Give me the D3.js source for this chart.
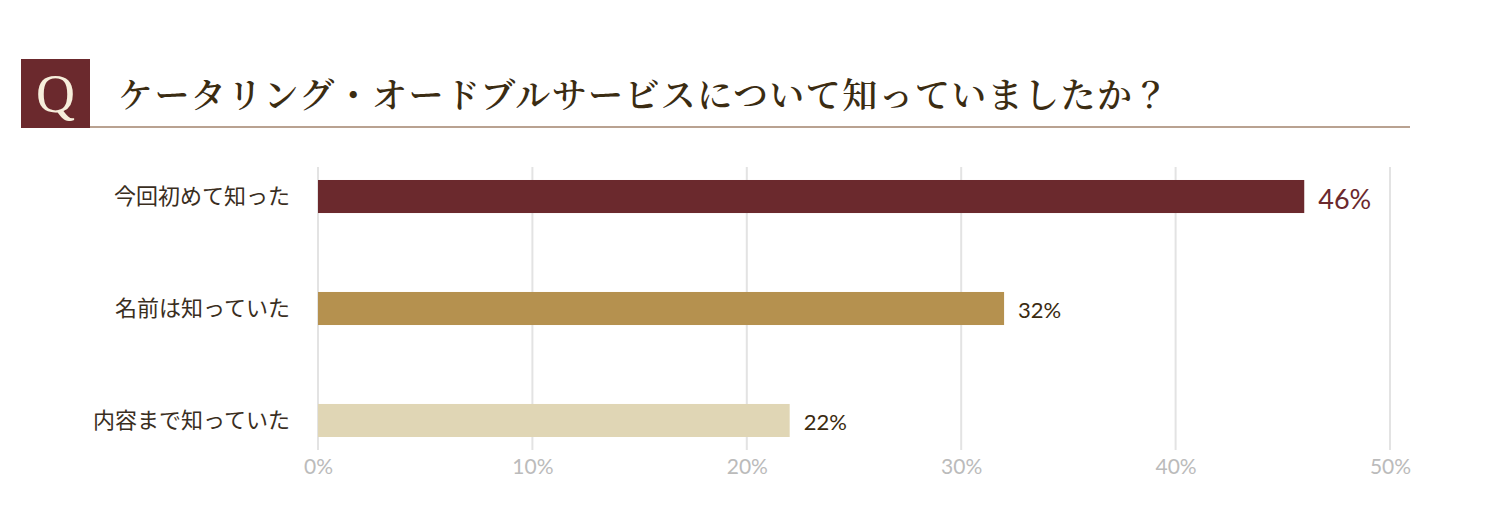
<!DOCTYPE html>
<html>
<head>
<meta charset="utf-8">
<script src="https://cdn.jsdelivr.net/npm/d3@7"></script>
<style>
  body { margin: 0; background: #fff; }
  .tick text { font-family: Lato, sans-serif; }
</style>
</head>
<body>
<div id="chart"></div>
<script>
var title = "ケータリング・オードブルサービスについて知っていましたか？";
var categories = ["今回初めて知った", "名前は知っていた", "内容まで知っていた"];
var values = [46, 32, 22];
var colors = ["#6b292d", "#b5914f", "#e0d6b5"];
var ticks = [0, 10, 20, 30, 40, 50];

var width = 1500;
var height = 510;
var x = d3.scaleLinear().domain([0, 50]).range([318, 1390]);
var y = d3.scaleBand().domain(categories).range([167, 450])
	.paddingInner(0.705).paddingOuter(0.116);

var svg = d3.select('#chart')
	.append('svg')
	.attr('width', width)
	.attr('height', height);

// heading
svg.append('rect')
	.attr('x', 21).attr('y', 59)
	.attr('width', 69).attr('height', 69)
	.attr('fill', '#6b292d');
svg.append('text')
	.attr('x', 55.5).attr('y', 112)
	.attr('text-anchor', 'middle')
	.attr('font-family', '"Liberation Serif", "DejaVu Serif", serif')
	.attr('font-size', 54)
	.attr('fill', '#f6eedb')
	.text('Q');
svg.append('line')
	.attr('x1', 90).attr('x2', 1410)
	.attr('y1', 127).attr('y2', 127)
	.attr('stroke', '#b9a291').attr('stroke-width', 2);
svg.append('text')
	.attr('x', 118).attr('y', 108)
	.attr('font-family', '"Noto Serif CJK JP", "Noto Sans CJK JP", serif')
	.attr('font-size', 35)
	.attr('font-weight', 600)
	.attr('letter-spacing', 1.4)
	.attr('fill', '#3b2c12')
	.text(title);

// grid
svg.append('g')
	.selectAll('line')
	.data(ticks)
	.join('line')
	.attr('x1', function (d) { return x(d); })
	.attr('x2', function (d) { return x(d); })
	.attr('y1', 167).attr('y2', 450)
	.attr('stroke', '#e3e3e3').attr('stroke-width', 2);

var axis = svg.append('g')
	.attr('transform', 'translate(0,450)')
	.call(d3.axisBottom(x).tickValues(ticks).tickSize(0).tickPadding(9)
		.tickFormat(function (d) { return d + '%'; }));
axis.select('.domain').remove();
axis.selectAll('text')
	.attr('font-size', 21)
	.attr('fill', '#bbbbbb');

// bars
svg.append('g')
	.selectAll('rect')
	.data(values)
	.join('rect')
	.attr('x', x(0))
	.attr('y', function (d, i) { return y(categories[i]); })
	.attr('width', function (d) { return x(d) - x(0); })
	.attr('height', y.bandwidth())
	.attr('fill', function (d, i) { return colors[i]; });

// category labels
svg.append('g')
	.selectAll('text')
	.data(categories)
	.join('text')
	.attr('x', 290)
	.attr('y', function (d) { return y(d) + y.bandwidth() / 2; })
	.attr('dy', '0.36em')
	.attr('text-anchor', 'end')
	.attr('font-family', '"Noto Sans CJK JP", sans-serif')
	.attr('font-size', 22)
	.attr('fill', '#3a2e1e')
	.text(function (d) { return d; });

// value labels
svg.append('g')
	.selectAll('text')
	.data(values)
	.join('text')
	.attr('x', function (d) { return x(d) + 14; })
	.attr('y', function (d, i) { return y(categories[i]) + y.bandwidth() / 2; })
	.attr('dy', '0.45em')
	.attr('font-family', 'Lato, sans-serif')
	.attr('font-size', function (d, i) { return i === 0 ? 27 : 22; })
	.attr('fill', function (d, i) { return i === 0 ? '#6b292d' : '#3a2a10'; })
	.text(function (d) { return d + '%'; });
</script>
</body>
</html>
